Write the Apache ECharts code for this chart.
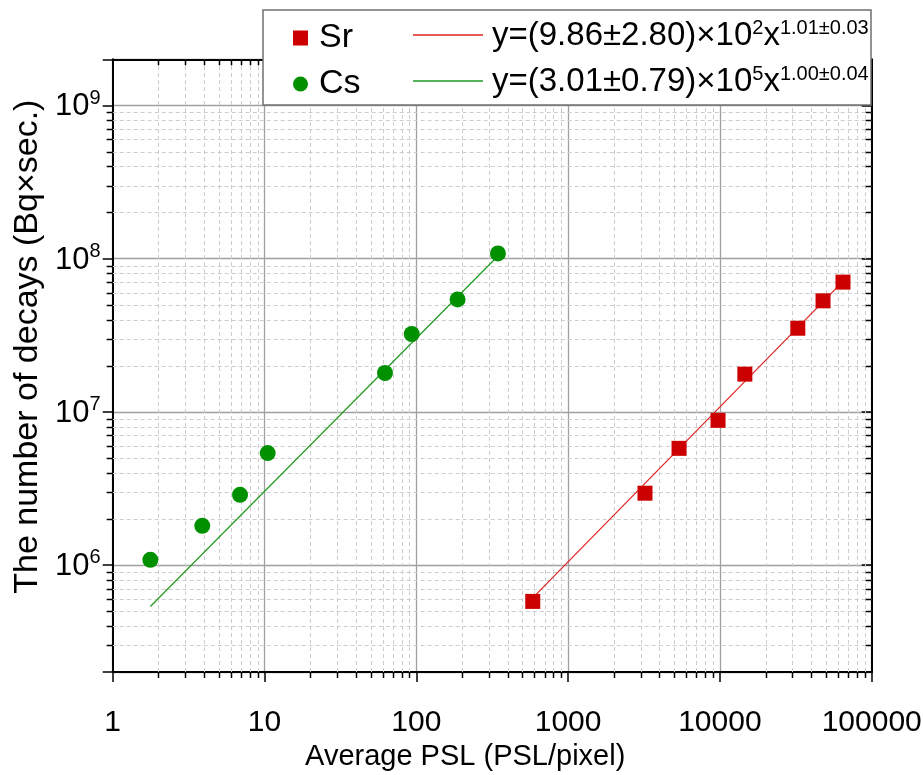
<!DOCTYPE html>
<html>
<head>
<meta charset="utf-8">
<script src="https://cdn.jsdelivr.net/npm/echarts@6/dist/echarts.min.js"></script>
<style>
html,body{margin:0;padding:0;background:#fff;}
#chart{width:923px;height:775px;}
</style>
</head>
<body>
<div id="chart"></div>
<script>
// ---- data ----
const xTickLabels = ['1', '10', '100', '1000', '10000', '100000'];
const yTickLabels = ['10^6', '10^7', '10^8', '10^9'];
const seriesNames = ['Sr', 'Cs'];
const fitNames = ['Sr fit', 'Cs fit'];
const fitMain = ['y=(9.86±2.80)×10', 'y=(3.01±0.79)×10'];
const fitExp10 = ['2', '5'];
const fitPow = ['1.01±0.03', '1.00±0.04'];

const srX = [585, 3210, 5380, 9720, 14600, 32600, 47800, 64700];
const srY = [5.78e5, 2.94e6, 5.77e6, 8.79e6, 1.76e7, 3.51e7, 5.30e7, 7.02e7];
const csX = [1.77, 3.89, 6.90, 10.5, 62.2, 93.3, 187, 345];
const csY = [1.08e6, 1.80e6, 2.87e6, 5.37e6, 1.79e7, 3.22e7, 5.41e7, 1.08e8];
const srFitX = [585, 64700];
const srFitY = [6.1e5, 7.1e7];
const csFitX = [1.77, 345];
const csFitY = [5.35e5, 1.04e8];

const X_MIN = 1, X_MAX = 1e5, Y_MIN = 2e5, Y_MAX = 2e9;

const FONT = 'Liberation Sans, Arial, Helvetica, sans-serif';
const zip = (a, b) => a.map((v, i) => [v, b[i]]);
const isPow10 = v => { const e = Math.round(Math.log10(v)); return Math.abs(v / Math.pow(10, e) - 1) < 1e-6 ? e : null; };

// minor (2..9 x 10^k) positions of the log axes
const minorItems = [];
for (let d = 0; d < 5; d++) for (let k = 2; k <= 9; k++) {
  const v = k * Math.pow(10, d); if (v > X_MIN && v < X_MAX) minorItems.push([v, Y_MIN, 0]);
}
for (let d = 5; d < 10; d++) for (let k = 2; k <= 9; k++) {
  const v = k * Math.pow(10, d); if (v > Y_MIN * 1.0001 && v < Y_MAX * 0.9999) minorItems.push([X_MIN, v, 1]);
}

const xLabelFmt = v => { const e = isPow10(v); if (e === null) return ''; const s = xTickLabels[e]; return s === undefined ? '' : s; };
const yLabelFmt = v => {
  const e = isPow10(v); if (e === null) return '';
  const lab = yTickLabels.find(t => t === '10^' + e);
  if (!lab) return '';
  const p = lab.split('^');
  return '{b|' + p[0] + '}{e|' + p[1] + '}';
};

const majorGrid = { show: true, lineStyle: { color: '#a0a0a0', width: 1.3, type: 'solid' } };
const axisLine = { show: true, onZero: false, lineStyle: { color: '#000', width: 2 } };
const tickStyle = { color: '#000', width: 1.5 };

function renderMinor(params, api) {
  const kind = api.value(2);
  const minorStyle = { stroke: '#cdcdcd', lineWidth: 1, lineDash: [4, 3] };
  if (kind === 0) {
    const v = api.value(0);
    const b = api.coord([v, Y_MIN]), t = api.coord([v, Y_MAX]);
    const x = Math.round(b[0]) + 0.5;
    return { type: 'group', children: [
      { type: 'line', shape: { x1: x, y1: b[1], x2: x, y2: t[1] }, style: minorStyle },
      { type: 'line', shape: { x1: x, y1: b[1], x2: x, y2: b[1] + 6 }, style: { stroke: '#000', lineWidth: 1.5 } },
      { type: 'line', shape: { x1: x, y1: t[1], x2: x, y2: t[1] + 6 }, style: { stroke: '#000', lineWidth: 1.5 } }
    ] };
  } else {
    const v = api.value(1);
    const l = api.coord([X_MIN, v]), r = api.coord([X_MAX, v]);
    const y = Math.round(l[1]) + 0.5;
    return { type: 'group', children: [
      { type: 'line', shape: { x1: l[0], y1: y, x2: r[0], y2: y }, style: minorStyle },
      { type: 'line', shape: { x1: l[0], y1: y, x2: l[0] - 6, y2: y }, style: { stroke: '#000', lineWidth: 1.5 } },
      { type: 'line', shape: { x1: r[0], y1: y, x2: r[0] - 6, y2: y }, style: { stroke: '#000', lineWidth: 1.5 } }
    ] };
  }
}

const chart = echarts.init(document.getElementById('chart'), null, { renderer: 'canvas' });
chart.setOption({
  backgroundColor: '#fff',
  animation: false,
  grid: { left: 112.7, right: 51.3, top: 59.3, bottom: 103, containLabel: false, outerBoundsMode: 'none' },
  xAxis: [
    {
      type: 'log', logBase: 10, min: X_MIN, max: X_MAX, position: 'bottom',
      axisLine: axisLine,
      axisTick: { show: true, inside: false, length: 10, lineStyle: tickStyle },
      minorTick: { show: false }, minorSplitLine: { show: false },
      splitLine: majorGrid,
      axisLabel: { formatter: xLabelFmt, fontSize: 30, fontFamily: FONT, color: '#000', margin: 36 },
      name: 'Average PSL (PSL/pixel)', nameLocation: 'middle', nameGap: 62,
      nameTextStyle: { fontSize: 29, fontFamily: FONT, color: '#000', padding: [0, 54, 0, 0] }
    },
    {
      type: 'log', logBase: 10, min: X_MIN, max: X_MAX, position: 'top',
      axisLine: axisLine,
      axisTick: { show: true, inside: true, length: 10, lineStyle: tickStyle },
      minorTick: { show: false }, minorSplitLine: { show: false },
      splitLine: { show: false }, axisLabel: { show: false }
    }
  ],
  yAxis: [
    {
      type: 'log', logBase: 10, min: Y_MIN, max: Y_MAX, position: 'left',
      axisLine: axisLine,
      axisTick: { show: true, inside: false, length: 10, lineStyle: tickStyle },
      minorTick: { show: false }, minorSplitLine: { show: false },
      splitLine: majorGrid,
      axisLabel: {
        formatter: yLabelFmt, margin: 12, color: '#000',
        rich: {
          b: { fontSize: 31, fontFamily: FONT, color: '#000', lineHeight: 34, verticalAlign: 'bottom' },
          e: { fontSize: 20, fontFamily: FONT, color: '#000', lineHeight: 18, verticalAlign: 'top' }
        }
      },
      name: 'The number of decays (Bq×sec.)', nameLocation: 'middle', nameGap: 57,
      nameTextStyle: { fontSize: 34, fontFamily: FONT, color: '#000', padding: [0, 0, 0, 38] }
    },
    {
      type: 'log', logBase: 10, min: Y_MIN, max: Y_MAX, position: 'right',
      axisLine: axisLine,
      axisTick: { show: true, inside: true, length: 10, lineStyle: tickStyle },
      minorTick: { show: false }, minorSplitLine: { show: false },
      splitLine: { show: false }, axisLabel: { show: false }
    }
  ],
  graphic: [{
    type: 'rect', z: 50,
    shape: { x: 263, y: 10, width: 608, height: 95 },
    style: { fill: '#fff', stroke: '#707070', lineWidth: 1.5 }
  }],
  legend: [
    {
      z: 60, orient: 'vertical', left: 293, top: 21, padding: 0, itemGap: 12,
      itemWidth: 15, itemHeight: 15, data: seriesNames,
      textStyle: { fontSize: 34, fontFamily: FONT, color: '#000', padding: [0, 0, 0, 6] }
    },
    {
      z: 60, orient: 'vertical', left: 413, top: 18, padding: 0, itemGap: 12,
      itemWidth: 70, itemHeight: 1.5, icon: 'rect', data: fitNames,
      formatter: name => {
        const i = fitNames.indexOf(name);
        return '{n|' + fitMain[i] + '}{s|' + fitExp10[i] + '}{n|x}{s|' + fitPow[i] + '}';
      },
      textStyle: {
        color: '#000', padding: [0, 0, 0, 4],
        rich: {
          n: { fontSize: 33, fontFamily: FONT, color: '#000', lineHeight: 34, verticalAlign: 'bottom' },
          s: { fontSize: 20, fontFamily: FONT, color: '#000', lineHeight: 14, verticalAlign: 'top' }
        }
      }
    }
  ],
  series: [
    {
      name: 'minor', type: 'custom', renderItem: renderMinor, data: minorItems,
      xAxisIndex: 0, yAxisIndex: 0, z: 1, silent: true, clip: false
    },
    {
      name: 'Sr', type: 'scatter', symbol: 'rect', symbolSize: 15, z: 5,
      itemStyle: { color: '#cc0000', opacity: 1 }, data: zip(srX, srY)
    },
    {
      name: 'Sr fit', type: 'line', symbol: 'none', showSymbol: false, z: 4,
      lineStyle: { color: '#e02020', width: 1.2 }, itemStyle: { color: '#e02020' },
      data: zip(srFitX, srFitY)
    },
    {
      name: 'Cs', type: 'scatter', symbol: 'circle', symbolSize: 16, z: 5,
      itemStyle: { color: '#009000', opacity: 1 }, data: zip(csX, csY)
    },
    {
      name: 'Cs fit', type: 'line', symbol: 'none', showSymbol: false, z: 4,
      lineStyle: { color: '#1f9a1f', width: 1.2 }, itemStyle: { color: '#1f9a1f' },
      data: zip(csFitX, csFitY)
    }
  ]
});
</script>
</body>
</html>
